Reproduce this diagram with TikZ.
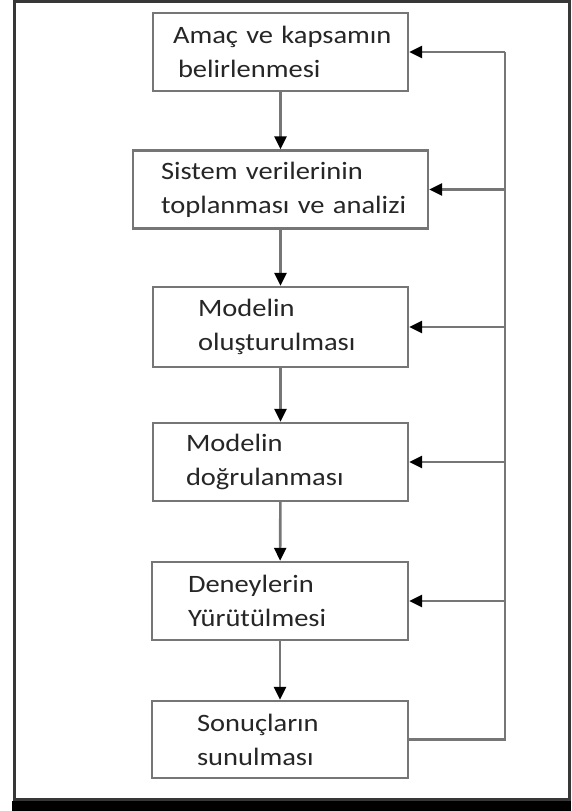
\documentclass[tikz,border=0pt]{standalone}
\usepackage{fontspec}
\setmainfont{Carlito}[FakeStretch=1.14]
\usepackage{xcolor}
\definecolor{flowLine}{RGB}{118, 118, 118}
\definecolor{flowText}{RGB}{38, 38, 38}
\definecolor{flowFrame}{RGB}{55, 55, 55}
\usepackage{tikz}
\usetikzlibrary{
    arrows.meta,
    calc
}

\begin{document}
\begin{tikzpicture}[
    x=1pt, y=-1pt,
    stageBox/.style={
        rectangle,
        draw=flowLine, line width=2.4pt,
        fill=white, text=flowText,
        font=\fontsize{25}{34}\selectfont, align=left,
        inner ysep=0pt, minimum height=78pt
    },
    flowArrow/.style={
        -{Triangle[length=13pt, width=12pt, color=black]}, line width=2.6pt, draw=flowLine
    },
    backLine/.style={
        line width=2.6pt, draw=flowLine
    }
]
    \useasboundingbox (0,0) rectangle (571,811);

    % Outer frame
    \draw[flowFrame, line width=3pt] (14.5,1.5) rectangle (569.5,799);
    \fill[black] (12,801) rectangle (571,811);

    % Stages of the study
    \node[stageBox, text width=215pt, inner xsep=20pt] (boxScope) at (280.5, 52) {
        \mbox{Amaç ve kapsamın}\\
        \hspace*{5pt}belirlenmesi
    };
    \node[stageBox, text width=239pt, inner xsep=28pt] (boxData) at (280.5, 189.5) {
        \mbox{Sistem verilerinin}\\
        \mbox{toplanması ve analizi}
    };
    \node[stageBox, text width=165pt, inner xsep=45pt, minimum height=80pt] (boxBuild) at (280.5, 327) {
        Modelin\\
        oluşturulması
    };
    \node[stageBox, text width=189pt, inner xsep=33pt] (boxVerify) at (280.5, 462) {
        Modelin\\
        doğrulanması
    };
    \node[stageBox, text width=184pt, inner xsep=36pt] (boxRun) at (280, 601) {
        Deneylerin\\
        Yürütülmesi
    };
    \node[stageBox, text width=166pt, inner xsep=45pt, minimum height=77pt] (boxReport) at (280, 739.5) {
        Sonuçların\\
        sunulması
    };

    % Forward flow
    \draw[flowArrow] (boxScope.south -| boxData.north) -- (boxData.north);
    \draw[flowArrow] (boxData) -- (boxBuild);
    \draw[flowArrow] (boxBuild) -- (boxVerify);
    \draw[flowArrow] (boxVerify) -- (boxRun);
    \draw[flowArrow] (boxRun) -- (boxReport);

    % Feedback line
    \coordinate (backTop) at (505, 52);
    \draw[backLine] (boxReport.east) -| (backTop);
    \draw[flowArrow] (backTop) -- (boxScope.east);
    \draw[flowArrow] (boxData.east -| backTop) -- (boxData.east);
    \draw[flowArrow] (boxBuild.east -| backTop) -- (boxBuild.east);
    \draw[flowArrow] (boxVerify.east -| backTop) -- (boxVerify.east);
    \draw[flowArrow] (boxRun.east -| backTop) -- (boxRun.east);

\end{tikzpicture}
\end{document}
